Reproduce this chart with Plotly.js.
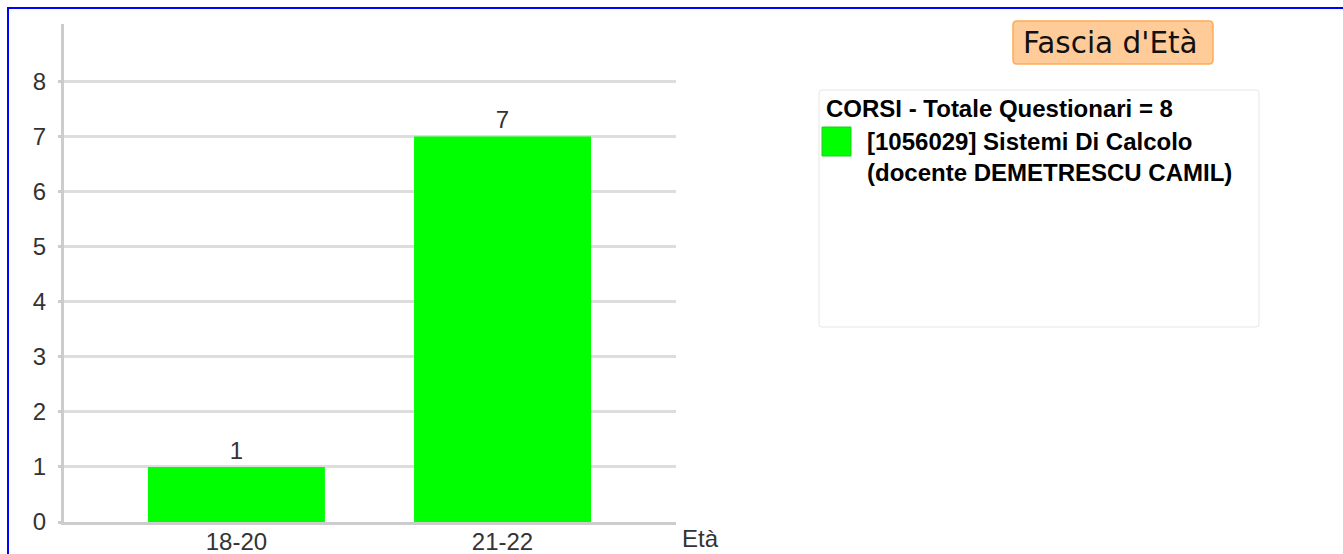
<!DOCTYPE html>
<html>
<head>
<meta charset="utf-8">
<script src="https://cdn.plot.ly/plotly-3.0.1.min.js"></script>
<style>
  html, body { margin: 0; padding: 0; background: #fff; }
  #wrap { position: relative; width: 1343px; height: 554px; overflow: hidden; }
  #chart { position: absolute; left: 0; top: 0; width: 1343px; height: 554px; }
  #frame { position: absolute; left: 7px; top: 7px; width: 1400px; height: 600px;
           border-left: 2px solid #0000ff; border-top: 2px solid #0000ff; pointer-events: none; }
</style>
</head>
<body>
<div id="wrap">
  <div id="chart"></div>
  <div id="frame"></div>
</div>
<script>
// ---- data ----
const categories = ["18-20", "21-22"];
const counts = [1, 7];
const seriesName = "[1056029] Sistemi Di Calcolo<br>(docente DEMETRESCU CAMIL)";
const legendTitle = "CORSI - Totale Questionari = 8";
const chartTitle = "Fascia d'Età";
const xAxisLabel = "Età";
const yTicks = [0, 1, 2, 3, 4, 5, 6, 7, 8];

// ---- geometry helpers (pixel -> paper) ----
const W = 1343, H = 554;
const L = 64, R = 676, T = 24, B = 522;
const px = x => (x - L) / (R - L);
const py = y => (B - y) / (B - T);

const axisFont = { family: 'Liberation Sans, Arial, sans-serif', size: 24, color: '#333333' };

const trace = {
  type: 'bar',
  x: categories,
  y: counts,
  name: seriesName,
  width: 0.665,
  marker: { color: '#00ff00', line: { width: 0 } },
  text: counts.map(String),
  textposition: 'outside',
  textfont: axisFont,
  cliponaxis: false,
  showlegend: false,
  hoverinfo: 'x+y'
};

function pathRounded(x0, y0, x1, y1, r) {
  const p = (x, y) => px(x) + ',' + py(y);
  return 'M' + p(x0 + r, y0) + ' L' + p(x1 - r, y0) +
         ' Q' + p(x1, y0) + ' ' + p(x1, y0 + r) +
         ' L' + p(x1, y1 - r) + ' Q' + p(x1, y1) + ' ' + p(x1 - r, y1) +
         ' L' + p(x0 + r, y1) + ' Q' + p(x0, y1) + ' ' + p(x0, y1 - r) +
         ' L' + p(x0, y0 + r) + ' Q' + p(x0, y0) + ' ' + p(x0 + r, y0) + ' Z';
}

const shapes = [
  { type: 'path', xref: 'paper', yref: 'paper', path: pathRounded(1013, 21, 1213, 64, 4),
    fillcolor: '#ffcc99', line: { color: '#ffaa55', width: 1.5 }, layer: 'above' },
  { type: 'path', xref: 'paper', yref: 'paper', path: pathRounded(819, 90, 1259, 327, 3),
    fillcolor: '#ffffff', line: { color: '#e6e6e6', width: 1 }, layer: 'above' },
  { type: 'rect', xref: 'paper', yref: 'paper', x0: px(822), x1: px(851), y0: py(156), y1: py(127),
    fillcolor: '#00ff00', line: { color: '#22cc22', width: 1 }, layer: 'above' }
];

const legendFont = { family: 'Liberation Sans, Arial, sans-serif', size: 24, color: '#000000' };

const annotations = [
  { xref: 'paper', yref: 'paper', x: px(1110), y: py(43), xanchor: 'center', yanchor: 'middle',
    text: chartTitle, showarrow: false,
    font: { family: 'DejaVu Sans, Verdana, sans-serif', size: 29.5, color: '#111111' } },
  { xref: 'paper', yref: 'paper', x: px(824), y: py(108), xanchor: 'left', yanchor: 'middle',
    text: '<b>' + legendTitle + '</b>', showarrow: false, font: legendFont },
  { xref: 'paper', yref: 'paper', x: px(865), y: py(157), xanchor: 'left', yanchor: 'middle', align: 'left',
    text: '<b>' + seriesName + '</b>', showarrow: false, font: legendFont },
  { xref: 'paper', yref: 'paper', x: px(680), y: py(538), xanchor: 'left', yanchor: 'middle',
    text: xAxisLabel, showarrow: false, font: axisFont }
];

const layout = {
  width: W, height: H,
  margin: { l: L, r: W - R, t: T, b: H - B, pad: 0 },
  paper_bgcolor: '#ffffff', plot_bgcolor: '#ffffff',
  showlegend: false,
  xaxis: {
    type: 'category',
    range: [-0.648, 1.652],
    showgrid: false, zeroline: false,
    showline: true, linecolor: '#cccccc', linewidth: 3,
    ticks: '', ticklabelstandoff: -4,
    tickfont: axisFont,
    fixedrange: true
  },
  yaxis: {
    range: [0, 9.04],
    tickvals: yTicks,
    showgrid: true, gridcolor: '#dddddd', gridwidth: 3,
    zeroline: false,
    showline: true, linecolor: '#cccccc', linewidth: 3,
    ticks: 'outside', ticklen: 3, tickcolor: '#cccccc', tickwidth: 3,
    ticklabelstandoff: 7,
    tickfont: axisFont,
    fixedrange: true
  },
  shapes: shapes,
  annotations: annotations
};

Plotly.newPlot('chart', [trace], layout, { displayModeBar: false, staticPlot: true });
</script>
</body>
</html>
